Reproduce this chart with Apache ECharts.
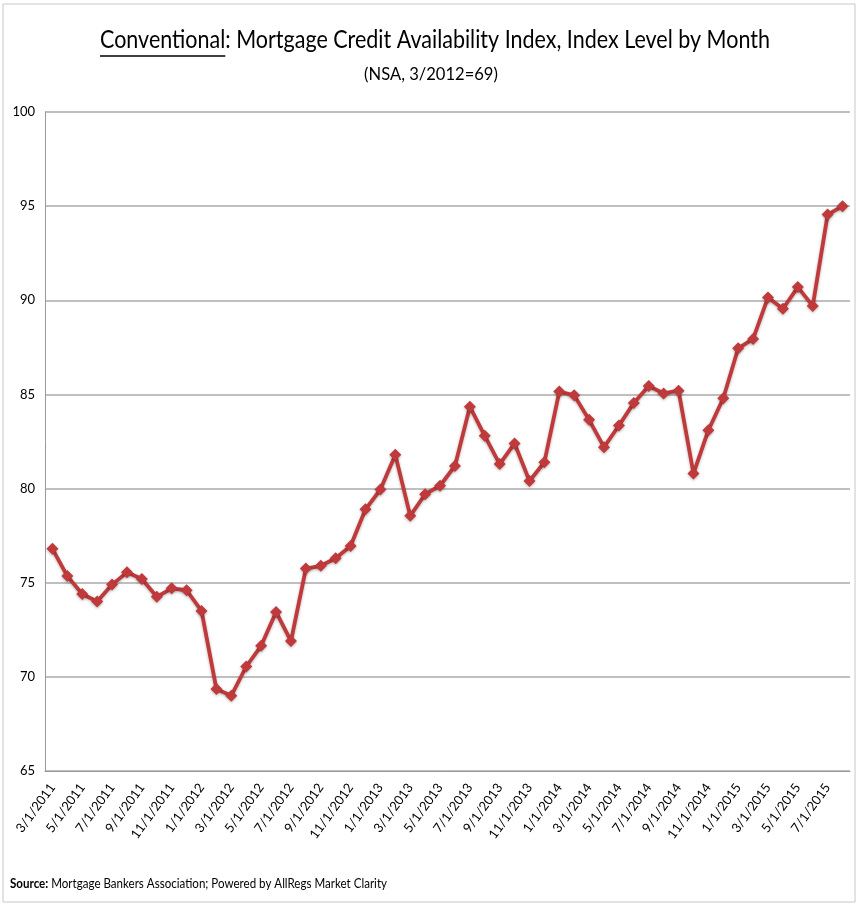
<!DOCTYPE html>
<html><head><meta charset="utf-8">
<script src="https://cdn.jsdelivr.net/npm/echarts@6/dist/echarts.min.js"></script>
<style>html,body{margin:0;padding:0;background:#fff}#c{width:859px;height:905px}</style>
</head><body><div id="c"></div>
<script>
const months = [];
(function(){ let m=3,y=2011; for(let i=0;i<54;i++){ months.push(m+'/1/'+y); m++; if(m>12){m=1;y++;} } })();
const indexValues = [76.8,75.35,74.4,74.0,74.9,75.55,75.2,74.25,74.7,74.6,73.5,69.35,69.0,70.55,71.65,73.45,71.9,75.75,75.9,76.3,76.95,78.9,79.95,81.8,78.55,79.7,80.15,81.2,84.35,82.8,81.3,82.4,80.4,81.4,85.15,84.95,83.65,82.2,83.35,84.55,85.45,85.05,85.2,80.8,83.1,84.8,87.45,87.95,90.15,89.55,90.7,89.7,94.55,95.0];
const yTicks = [65,70,75,80,85,90,95,100];
const FONT = 'Lato, "Open Sans", sans-serif';
const titleMain = 'Conventional';
const titleRest = ': Mortgage Credit Availability Index, Index Level by Month';
const sourceBold = 'Source:';
const sourceRest = ' Mortgage Bankers Association; Powered by AllRegs Market Clarity';
const ctx = document.createElement('canvas').getContext('2d');
ctx.font = '25px ' + FONT;
const wMain = ctx.measureText(titleMain).width;
const wAll = ctx.measureText(titleMain + titleRest).width;
const tScale = 670 / wAll;
const tx0 = 100;
ctx.font = 'bold 13px ' + FONT;
const wSb = ctx.measureText(sourceBold).width;
ctx.font = '13px ' + FONT;
const wSr = ctx.measureText(sourceRest).width;
const sScale = 377 / (wSb + wSr);
const chart = echarts.init(document.getElementById('c'));
chart.setOption({
  animation:false,
  grid:{left:45,right:9,top:112,bottom:134},
  graphic:[
    {type:'rect',shape:{x:3,y:4,width:852,height:898},style:{fill:'none',stroke:'#c8c8c8',lineWidth:1}},
    {type:'text',x:tx0,y:27,scaleX:tScale,style:{text:titleMain+titleRest,font:'25px '+FONT,fill:'#000'}},
    {type:'line',shape:{x1:tx0,y1:56,x2:tx0+wMain*tScale,y2:56},style:{stroke:'#000',lineWidth:1.5}},
    {type:'text',x:431,y:65,scaleX:0.92,originX:0,style:{text:'(NSA, 3/2012=69)',font:'18px '+FONT,fill:'#000',align:'center'}},
    {type:'text',x:10,y:877,scaleX:sScale,style:{text:'{b|'+sourceBold+'}'+sourceRest,font:'13px '+FONT,fill:'#000',rich:{b:{fontWeight:'bold',fontSize:13,fontFamily:FONT}}}}
  ],
  xAxis:{type:'category',data:months,boundaryGap:true,
    axisLine:{lineStyle:{color:'#999',width:1}},
    axisTick:{interval:1,length:5,lineStyle:{color:'#999'}},
    axisLabel:{interval:1,rotate:54,fontSize:13,fontFamily:FONT,color:'#000',margin:14}},
  yAxis:{type:'value',min:65,max:100,interval:5,
    axisLine:{show:true,lineStyle:{color:'#999'}},
    axisTick:{show:false},
    axisLabel:{fontSize:13,fontFamily:FONT,color:'#000',margin:10},
    splitLine:{lineStyle:{color:'#aaa',width:1.5}}},
  series:[{type:'line',data:indexValues,symbol:'diamond',symbolSize:12,showAllSymbol:true,
    lineStyle:{color:'#C0393B',width:3.8,shadowColor:'rgba(0,0,0,0.3)',shadowBlur:3,shadowOffsetY:1},
    itemStyle:{color:'#C0393B',shadowColor:'rgba(0,0,0,0.3)',shadowBlur:3,shadowOffsetY:1}}]
});
</script></body></html>
